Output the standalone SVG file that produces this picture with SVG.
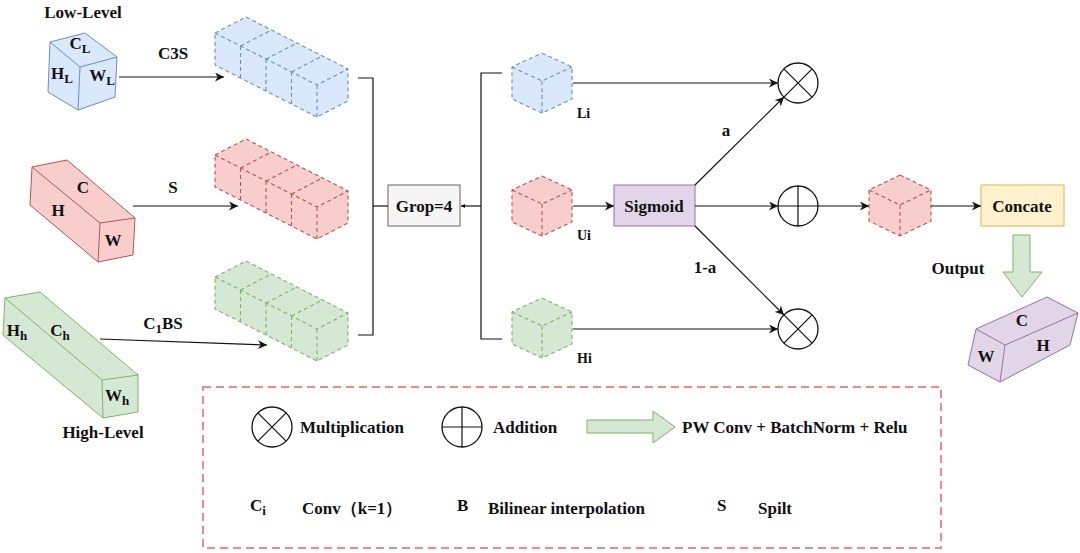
<svg xmlns="http://www.w3.org/2000/svg" width="1080" height="553" viewBox="0 0 1080 553">
<style>
text{font-family:"Liberation Serif","Times New Roman",serif;font-weight:bold;font-size:17px;fill:#111}
.m{text-anchor:middle}
.sm{font-size:14px}
.ln{fill:none;stroke:#111;stroke-width:1.2}
.blue{fill:#dae8fc;stroke:#6c8ebf}
.pink{fill:#f8cecc;stroke:#b85450}
.green{fill:#d5e8d4;stroke:#82b366}
.purple{fill:#e1d5e7;stroke:#9673a6}
.yellow{fill:#fff2cc;stroke:#d6b656}
.gray{fill:#f5f5f5;stroke:#666}
.dash{stroke-dasharray:4 3;stroke-width:1.1}
.dl{fill:none;stroke-dasharray:4 3;stroke-width:1.1}
.op{fill:#fff;stroke:#111;stroke-width:1.3}
</style>
<defs>
<marker id="ar" viewBox="0 0 10 10" refX="10" refY="5" markerWidth="9" markerHeight="9" markerUnits="userSpaceOnUse" orient="auto">
<path d="M0,0 L10,5 L0,10 L3,5 z" fill="#111"/>
</marker>
<marker id="ars" viewBox="0 0 10 10" refX="10" refY="5" markerWidth="4" markerHeight="4" markerUnits="userSpaceOnUse" orient="auto">
<path d="M0,0 L10,5 L0,10 z" fill="#111"/>
</marker>
</defs>

<!-- Low-level cube -->
<g id="low-level">
<text class="m" x="83" y="18">Low-Level</text>
<polygon class="blue" points="50,42 85,33 117,57 115,97 78,110 48,92"/>
<polyline class="blue" fill="none" points="50,42 80,67 117,57" style="fill:none"/>
<line class="blue" x1="80" y1="67" x2="78" y2="110"/>
<text class="m" x="80" y="49">C<tspan dy="4" font-size="13">L</tspan></text>
<text class="m" x="62" y="79">H<tspan dy="4" font-size="13">L</tspan></text>
<text class="m" x="102" y="81">W<tspan dy="4" font-size="13">L</tspan></text>
</g>

<!-- Mid cube -->
<g id="mid-level">
<polygon class="pink" points="32,167 67,160 135,218 133,255 98,262 30,205"/>
<polyline class="pink" style="fill:none" points="32,167 100,223 135,218"/>
<line class="pink" x1="100" y1="223" x2="98" y2="262"/>
<text class="m" x="83" y="193">C</text>
<text class="m" x="58" y="216">H</text>
<text class="m" x="113" y="246">W</text>
</g>

<!-- High-level cube -->
<g id="high-level">
<polygon class="green" points="5,298 40,292 138,375 138,412 103,418 3,335"/>
<polyline class="green" style="fill:none" points="5,298 102,380 138,375"/>
<line class="green" x1="102" y1="380" x2="103" y2="418"/>
<text class="m" x="17" y="336">H<tspan dy="4" font-size="13">h</tspan></text>
<text class="m" x="60" y="336">C<tspan dy="4" font-size="13">h</tspan></text>
<text class="m" x="117" y="401">W<tspan dy="4" font-size="13">h</tspan></text>
<text class="m" x="103" y="438">High-Level</text>
</g>

<!-- Stacks -->
<g id="stack-blue">
<polygon class="blue dash" points="215,33 246,17 348,69 348,101 317,117 215,65"/>
<path class="blue dl" d="M215,33 L317,85 L348,69 M317,85 L317,117 M240.5,46 L240.5,78 M240.5,46 L271.5,30 M266,59 L266,91 M266,59 L297,43 M291.5,72 L291.5,104 M291.5,72 L322.5,56"/>
</g>
<g id="stack-pink">
<polygon class="pink dash" points="215,155 246,139 348,191 348,223 317,239 215,187"/>
<path class="pink dl" d="M215,155 L317,207 L348,191 M317,207 L317,239 M240.5,168 L240.5,200 M240.5,168 L271.5,152 M266,181 L266,213 M266,181 L297,165 M291.5,194 L291.5,226 M291.5,194 L322.5,178"/>
</g>
<g id="stack-green">
<polygon class="green dash" points="215,277 246,261 348,313 348,345 317,361 215,309"/>
<path class="green dl" d="M215,277 L317,329 L348,313 M317,329 L317,361 M240.5,290 L240.5,322 M240.5,290 L271.5,274 M266,303 L266,335 M266,303 L297,287 M291.5,316 L291.5,348 M291.5,316 L322.5,300"/>
</g>

<!-- Grop box -->
<g id="grop">
<rect class="gray" x="388" y="185" width="72" height="41"/>
<text class="m" x="424" y="212">Grop=4</text>
</g>

<!-- small cubes -->
<g id="li">
<polygon class="blue dash" points="542,53 572,67 572,99 542,113 512,99 512,67"/>
<path class="blue dl" d="M512,67 L542,81 L572,67 M542,81 L542,113"/>
<text class="sm" x="577" y="118">Li</text>
</g>
<g id="ui">
<polygon class="pink dash" points="542,176 572,190 572,222 542,236 512,222 512,190"/>
<path class="pink dl" d="M512,190 L542,204 L572,190 M542,204 L542,236"/>
<text class="sm" x="577" y="240">Ui</text>
</g>
<g id="hi">
<polygon class="green dash" points="542,298 572,312 572,344 542,358 512,344 512,312"/>
<path class="green dl" d="M512,312 L542,326 L572,312 M542,326 L542,358"/>
<text class="sm" x="577" y="363">Hi</text>
</g>

<g id="sigmoid">
<rect class="purple" x="614" y="185" width="81" height="41"/>
<text class="m" x="654" y="212">Sigmoid</text>
</g>

<g id="mul-top">
<circle class="op" cx="798" cy="83" r="20"/>
<path class="ln" d="M783.9,68.9 L812.1,97.1 M812.1,68.9 L783.9,97.1"/>
</g>
<g id="add">
<circle class="op" cx="798" cy="206" r="20"/>
<path class="ln" d="M778,206 L818,206 M798,186 L798,226"/>
</g>
<g id="mul-bottom">
<circle class="op" cx="798" cy="329" r="20"/>
<path class="ln" d="M783.9,314.9 L812.1,343.1 M812.1,314.9 L783.9,343.1"/>
</g>

<g id="fused">
<polygon class="pink dash" points="900,175 931,190 931,221 900,236 869,221 869,190"/>
<path class="pink dl" d="M869,190 L900,205 L931,190 M900,205 L900,236"/>
</g>

<g id="concate">
<rect class="yellow" x="981" y="185" width="83" height="41"/>
<text class="m" x="1022" y="212">Concate</text>
</g>

<g id="output-arrow">
<polygon class="green" points="1013,235 1030,235 1030,272 1042,272 1022,297 1003,272 1013,272"/>
<text class="m" x="958" y="274">Output</text>
</g>

<g id="output">
<polygon class="purple" points="976,329 1047,297 1078,313 1070,345 1000,382 968,365"/>
<polyline class="purple" style="fill:none" points="976,329 1005,345 1078,313"/>
<line class="purple" x1="1005" y1="345" x2="1000" y2="382"/>
<text class="m" x="1022" y="326">C</text>
<text class="m" x="1043" y="351">H</text>
<text class="m" x="986" y="362">W</text>
</g>

<!-- Connectors -->
<g id="connectors">
<line class="ln" x1="119" y1="77" x2="224" y2="77" marker-end="url(#ar)"/>
<text class="m" x="173" y="59">C3S</text>
<line class="ln" x1="133" y1="206" x2="238" y2="206" marker-end="url(#ar)"/>
<text class="m" x="173" y="193">S</text>
<line class="ln" x1="100" y1="339" x2="267" y2="345" marker-end="url(#ar)"/>
<text class="m" x="163" y="329">C<tspan dy="4" font-size="13">1</tspan><tspan dy="-4">BS</tspan></text>

<polyline class="ln" points="358,78 373,78 373,335 358,335"/>
<line class="ln" x1="373" y1="206" x2="388" y2="206"/>
<line class="ln" x1="481" y1="206" x2="461" y2="206" marker-end="url(#ars)"/>
<polyline class="ln" points="502,73 481,73 481,339 502,339"/>

<line class="ln" x1="573" y1="83" x2="778" y2="83" marker-end="url(#ar)"/>
<line class="ln" x1="573" y1="206" x2="614" y2="206" marker-end="url(#ar)"/>
<line class="ln" x1="573" y1="329" x2="778" y2="329" marker-end="url(#ar)"/>

<line class="ln" x1="695" y1="185" x2="784" y2="97" marker-end="url(#ar)"/>
<text class="m" x="726" y="136">a</text>
<line class="ln" x1="695" y1="206" x2="778" y2="206" marker-end="url(#ar)"/>
<line class="ln" x1="695" y1="226" x2="784" y2="315" marker-end="url(#ar)"/>
<text class="m" x="705" y="273">1-a</text>

<line class="ln" x1="818" y1="206" x2="869" y2="206" marker-end="url(#ar)"/>
<line class="ln" x1="931" y1="206" x2="981" y2="206" marker-end="url(#ar)"/>
</g>

<!-- Legend -->
<g id="legend">
<rect x="203" y="387" width="738" height="161" fill="none" stroke="#f08a8a" stroke-width="2" stroke-dasharray="8 5"/>
<circle class="op" cx="272" cy="427" r="20"/>
<path class="ln" d="M257.9,412.9 L286.1,441.1 M286.1,412.9 L257.9,441.1"/>
<text x="300" y="433">Multiplication</text>
<circle class="op" cx="462" cy="427" r="20"/>
<path class="ln" d="M442,427 L482,427 M462,407 L462,447"/>
<text x="493" y="433">Addition</text>
<polygon class="green" points="587,420 653,420 653,411 675,427 653,443 653,433 587,433"/>
<text x="682" y="433">PW Conv + BatchNorm + Relu</text>
<text x="250" y="511">C<tspan dy="4" font-size="13">i</tspan></text>
<text x="302" y="514">Conv（k=1）</text>
<text x="457" y="511">B</text>
<text x="488" y="514">Bilinear interpolation</text>
<text x="717" y="511">S</text>
<text x="758" y="514">Spilt</text>
</g>
</svg>
